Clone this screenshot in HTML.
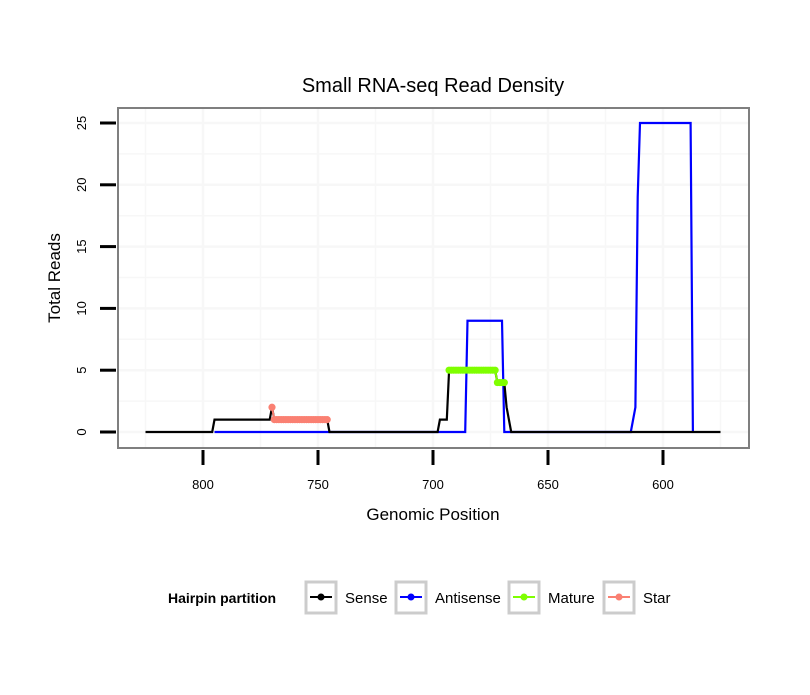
<!DOCTYPE html>
<html><head><meta charset="utf-8"><style>
body{margin:0;background:#fff;}
svg text{font-family:"Liberation Sans",sans-serif;}
</style></head><body>
<svg id="chart" width="810" height="690" xmlns="http://www.w3.org/2000/svg">
<rect width="810" height="690" fill="#fff"/>
<text x="433" y="92" font-size="20" text-anchor="middle">Small RNA-seq Read Density</text>
<g id="grid"></g>
<g id="series"></g>
<rect x="118" y="108" width="631" height="340" fill="none" stroke="#7f7f7f" stroke-width="2"/>
<g id="axes"></g>
<text x="433" y="520" font-size="17" text-anchor="middle">Genomic Position</text>
<text transform="translate(60,278) rotate(-90)" font-size="17" text-anchor="middle">Total Reads</text>
<g id="legend"></g>
</svg>
<script>
const xTicks=[800,750,700,650,600];
const yTicks=[0,5,10,15,20,25];
const senseLine=[[825,0],[796,0],[795,1],[771,1],[770,2],[769,1],[746,1],[745,0],[698,0],[697,1],[694,1],[693,5],[673,5],[672,4],[669,4],[668,2],[666,0],[575,0]];
const antisenseLine=[[795,0],[686,0],[685,9],[670,9],[669,0],[614,0],[612,2],[611,19],[610,25],[588,25],[587,0]];
const matureMarks=[[693,5],[692,5],[691,5],[690,5],[689,5],[688,5],[687,5],[686,5],[685,5],[684,5],[683,5],[682,5],[681,5],[680,5],[679,5],[678,5],[677,5],[676,5],[675,5],[674,5],[673,5],[672,4],[671,4],[670,4],[669,4]];
const starMarks=[[770,2],[769,1],[768,1],[767,1],[766,1],[765,1],[764,1],[763,1],[762,1],[761,1],[760,1],[759,1],[758,1],[757,1],[756,1],[755,1],[754,1],[753,1],[752,1],[751,1],[750,1],[749,1],[748,1],[747,1],[746,1]];
const legendLabels=["Sense","Antisense","Mature","Star"];
const legendColors=["#000000","#0000ff","#7fff00","#fa8072"];

const NS="http://www.w3.org/2000/svg";
const X=p=>203+(800-p)*2.3;
const Y=v=>432-v*12.36;
function mk(tag,attrs,parent){const e=document.createElementNS(NS,tag);for(const k in attrs)e.setAttribute(k,attrs[k]);parent.appendChild(e);return e;}
const grid=document.getElementById('grid'),ser=document.getElementById('series'),axes=document.getElementById('axes'),leg=document.getElementById('legend');
for(let i=0;i<xTicks.length;i++){
  for(const p of [xTicks[i],xTicks[i]+25]){
    const l=mk('line',{x1:X(p),x2:X(p),y1:109,y2:447,stroke:'#f7f7f7','stroke-width':p===xTicks[i]?2.5:1.5},grid);
    
    
  }
}
{const l=mk('line',{x1:X(575),x2:X(575),y1:109,y2:447,stroke:'#f7f7f7','stroke-width':1.5},grid);
}
for(const v of yTicks){
  for(const q of [v,v+2.5]){
    if(Y(q)<110) continue;
    const l=mk('line',{x1:119,x2:748,y1:Y(q),y2:Y(q),stroke:'#f7f7f7','stroke-width':q===v?2.5:1.5},grid);
    
    
  }
}
function line(data,color,name){
  const pl=mk('polyline',{points:data.map(d=>X(d[0])+','+Y(d[1])).join(' '),fill:'none',stroke:color,'stroke-width':2.2},ser);
  
  
}
function marks(data,color,name){
  const pl=mk('polyline',{points:data.map(d=>X(d[0])+','+Y(d[1])).join(' '),fill:'none',stroke:color,'stroke-width':2},ser);
  
  
  for(const d of data){
    const c=mk('circle',{cx:X(d[0]),cy:Y(d[1]),r:3.6,fill:color},ser);
    
    
  }
}
line(antisenseLine,'#0000ff','antisense-line');
line(senseLine,'#000000','sense-line');
marks(matureMarks,'#7fff00','mature');
marks(starMarks,'#fa8072','star');
for(const t of xTicks){
  const l=mk('line',{x1:X(t),x2:X(t),y1:450,y2:465,stroke:'#000','stroke-width':3},axes);
  
  const tx=mk('text',{x:X(t),y:489,'font-size':13,'text-anchor':'middle'},axes);tx.textContent=t;
  
}
for(const t of yTicks){
  const l=mk('line',{x1:100,x2:116,y1:Y(t),y2:Y(t),stroke:'#000','stroke-width':3},axes);
  
  const tx=mk('text',{transform:`translate(86,${Y(t)}) rotate(-90)`,'font-size':13,'text-anchor':'middle'},axes);tx.textContent=t;
  
}
{const t=mk('text',{x:168,y:603,'font-size':14,'font-weight':'bold'},leg);t.textContent='Hairpin partition';
}
const boxX=[306,396,509,604];
for(let i=0;i<legendLabels.length;i++){
  const bx=boxX[i];
  const r=mk('rect',{x:bx,y:582,width:30,height:31,fill:'#fff',stroke:'#cccccc','stroke-width':3},leg);
  
  mk('line',{x1:bx+4,x2:bx+26,y1:597,y2:597,stroke:legendColors[i],'stroke-width':2},leg);
  mk('circle',{cx:bx+15,cy:597,r:3.5,fill:legendColors[i]},leg);
  const t=mk('text',{x:bx+39,y:603,'font-size':15},leg);t.textContent=legendLabels[i];
  
}
</script>
</body></html>
